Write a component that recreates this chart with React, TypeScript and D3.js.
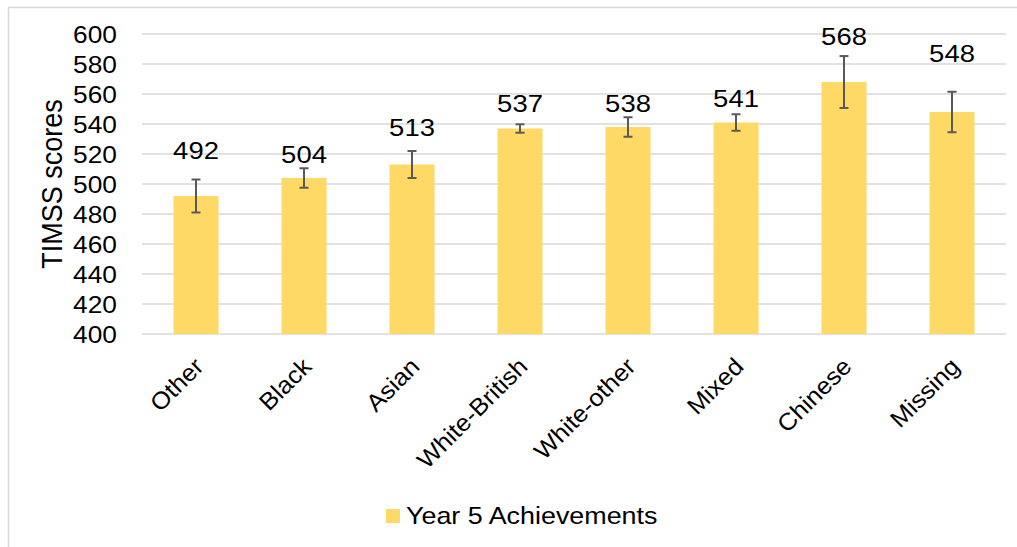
import * as d3 from "d3";

const categories = ["Other", "Black", "Asian", "White-British", "White-other", "Mixed", "Chinese", "Missing"];
const scores = [492, 504, 513, 537, 538, 541, 568, 548];
const errors = [11, 6.5, 9, 2.8, 6.5, 5.5, 17.3, 13.5];
// where Excel left each value label (baseline, in score units)
const labelAt = [516.7, 513.8, 532.2, 547.8, 548.2, 551.5, 592.7, 581.1];
const yTicks = [400, 420, 440, 460, 480, 500, 520, 540, 560, 580, 600];
const seriesName = "Year 5 Achievements";

const W = 1017;
const H = 547;
const BAR = "#FFD966";
const FONT = "'Liberation Sans', Arial, sans-serif";
const SX = 1.12; // the picture is stretched sideways a little

const App = () => {
  const x = d3.scaleBand().domain(categories).range([142, 1006]).paddingInner(0.583).paddingOuter(0.2915);
  const y = d3.scaleLinear().domain([400, 600]).range([334, 34]);
  const bw = x.bandwidth();

  return (
    <svg width={W} height={H} style={{ position: "absolute", left: 0, top: 0 }} fontFamily={FONT}>
      <rect x={0} y={0} width={W} height={H} fill="#fff" />
      <path d={`M8.5,${H} V7.5 H${W}`} fill="none" stroke="#D9D9D9" strokeWidth={1.5} />

      {yTicks.map((t) => (
        <g key={t}>
          <line x1={142} x2={1006} y1={y(t)} y2={y(t)} stroke="#D9D9D9" strokeWidth={1.5} />
          <text
            transform={`translate(117,${y(t) + 8.5}) scale(${SX},1)`}
            textAnchor="end"
            fontSize={23.5}
            fill="#000"
          >
            {t}
          </text>
        </g>
      ))}

      <text
        transform={`translate(62,${(y(400) + y(600)) / 2}) scale(${SX},1) rotate(-90)`}
        textAnchor="middle"
        fontSize={27}
        fill="#000"
      >
        TIMSS scores
      </text>

      {categories.map((c, i) => {
        const x0 = x(c) as number;
        const cx = x0 + bw / 2;
        const v = scores[i];
        const e = errors[i];
        return (
          <g key={c}>
            <rect x={x0} y={y(v)} width={bw} height={y(400) - y(v)} fill={BAR} />
            <g stroke="#595959" strokeWidth={2}>
              <line x1={cx} x2={cx} y1={y(v + e)} y2={y(v - e)} />
              <line x1={cx - 4.5} x2={cx + 4.5} y1={y(v + e)} y2={y(v + e)} />
              <line x1={cx - 4.5} x2={cx + 4.5} y1={y(v - e)} y2={y(v - e)} />
            </g>
            <text
              transform={`translate(${cx},${y(labelAt[i])}) scale(${SX},1)`}
              textAnchor="middle"
              fontSize={24.5}
              fill="#000"
            >
              {v}
            </text>
            <text
              transform={`translate(${cx + 9},368) rotate(-45) scale(1.06,1)`}
              textAnchor="end"
              fontSize={24}
              fill="#000"
            >
              {c}
            </text>
          </g>
        );
      })}

      <rect x={386} y={509} width={14} height={14} fill={BAR} />
      <text transform={`translate(406,524) scale(${SX},1)`} fontSize={24} fill="#000">
        {seriesName}
      </text>
    </svg>
  );
};

export default App;
